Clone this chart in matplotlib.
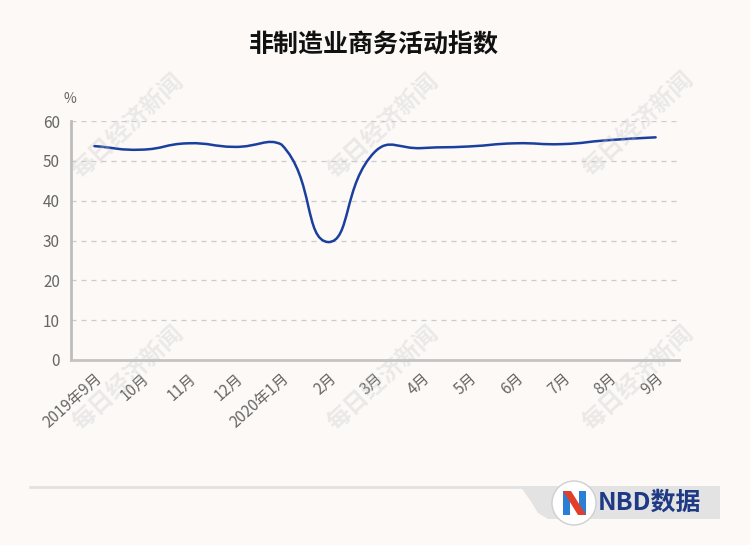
import numpy as np
import matplotlib
matplotlib.use('Agg')
import matplotlib.pyplot as plt
from matplotlib.path import Path
from matplotlib.patches import PathPatch, Circle, Polygon

plt.rcParams['font.family'] = ['Noto Sans CJK SC', 'DejaVu Sans']

# data
months = ['2019年9月', '10月', '11月', '12月', '2020年1月', '2月', '3月',
          '4月', '5月', '6月', '7月', '8月', '9月']
pmi = [53.7, 52.8, 54.4, 53.5, 54.1, 29.6, 52.3, 53.2, 53.6, 54.4, 54.2, 55.2, 55.9]
y_ticks = [0, 10, 20, 30, 40, 50, 60]

BG = '#fcf9f7'
LINE = '#1a3f9e'
GREY = '#666666'

W, H = 750, 545
fig = plt.figure(figsize=(W / 100, H / 100), dpi=100, facecolor=BG)
ax = fig.add_axes([71 / W, 1 - 360 / H, 608 / W, 239 / H])
ax.set_facecolor(BG)
ax.set_xlim(-0.5, len(months) - 0.5)
ax.set_ylim(0, 60)


def smooth_path(ax, xs, ys, smooth=0.5):
    # echarts-like bezier smoothing, computed in pixel space
    pts = ax.transData.transform(np.column_stack([xs, ys]))
    n = len(pts)
    lo, hi = pts.min(axis=0), pts.max(axis=0)
    cps = []
    for i in range(n):
        p = pts[i]
        prev = pts[max(i - 1, 0)]
        nxt = pts[min(i + 1, n - 1)]
        v = (nxt - prev) * smooth
        d0 = np.hypot(*(p - prev))
        d1 = np.hypot(*(p - nxt))
        s = d0 + d1
        if s == 0:
            cin, cout = p, p
        else:
            cin = np.clip(p - v * d0 / s, lo, hi)
            cout = np.clip(p + v * d1 / s, lo, hi)
        cps.append((cin, cout))
    verts = [pts[0]]
    codes = [Path.MOVETO]
    for i in range(1, n):
        verts += [cps[i - 1][1], cps[i][0], pts[i]]
        codes += [Path.CURVE4] * 3
    data = ax.transData.inverted().transform(np.array(verts))
    return Path(data, codes)


x = np.arange(len(months))
ax.add_patch(PathPatch(smooth_path(ax, x, pmi), facecolor='none',
                       edgecolor=LINE, linewidth=1.8, zorder=3,
                       capstyle='round', joinstyle='round'))

ax.set_yticks(y_ticks)
ax.set_yticklabels([str(v) for v in y_ticks])
ax.set_xticks(x)
ax.set_xticklabels(months, rotation=42, ha='right', rotation_mode='anchor')
ax.tick_params(axis='y', length=0, pad=8, labelsize=11, labelcolor=GREY)
ax.tick_params(axis='x', length=0, pad=7, labelsize=11, labelcolor=GREY)
for v in y_ticks[1:]:
    ax.axhline(v, color='#cccccc', linewidth=0.9, linestyle=(0, (4, 4)), zorder=1)
for side in ['top', 'right']:
    ax.spines[side].set_visible(False)
ax.spines['left'].set_color('#bdbdbd')
ax.spines['left'].set_linewidth(2)
ax.spines['bottom'].set_color('#c4c4c4')
ax.spines['bottom'].set_linewidth(2)

fig.text(70 / W, 1 - 99 / H, '%', fontsize=10, color=GREY, ha='center', va='center')
fig.text(374 / W, 1 - 46 / H, '非制造业商务活动指数', fontsize=18, fontweight='bold',
         color='#111111', ha='center', va='center')

# watermarks
for cx, cy in [(128, 126), (383, 126), (638, 124), (128, 378), (383, 378), (638, 378)]:
    fig.text(cx / W, 1 - cy / H, '每日经济新闻', fontsize=17, fontweight='bold',
             color='#c4c4c4', alpha=0.3, rotation=43, ha='center', va='center', zorder=5)

# footer
deco = fig.add_axes([0, 0, 1, 1], facecolor='none')
deco.set_xlim(0, W)
deco.set_ylim(H, 0)
deco.axis('off')
deco.plot([30, 530], [487, 487], color='#e2e2e2', linewidth=2)
deco.add_patch(Polygon([(520, 486), (720, 486), (720, 519), (548, 519), (538, 513), (530, 500)],
                       closed=True, facecolor='#e3e3e3', edgecolor='none'))
deco.add_patch(Circle((574, 503), 22, facecolor='white', edgecolor='#cfcfcf', linewidth=1))
deco.add_patch(Polygon([(563, 491), (570, 491), (570, 515), (563, 515)], facecolor='#2a7fd4'))
deco.add_patch(Polygon([(579, 491), (586, 491), (586, 515), (579, 515)], facecolor='#2a7fd4'))
deco.add_patch(Polygon([(563, 491), (571, 491), (586, 515), (578, 515)], facecolor='#e0402a'))
deco.text(650, 503, 'NBD数据', fontsize=18, fontweight='bold', color='#1f3a85',
          ha='center', va='center')

fig.savefig('out.png', dpi=100, facecolor=BG)
